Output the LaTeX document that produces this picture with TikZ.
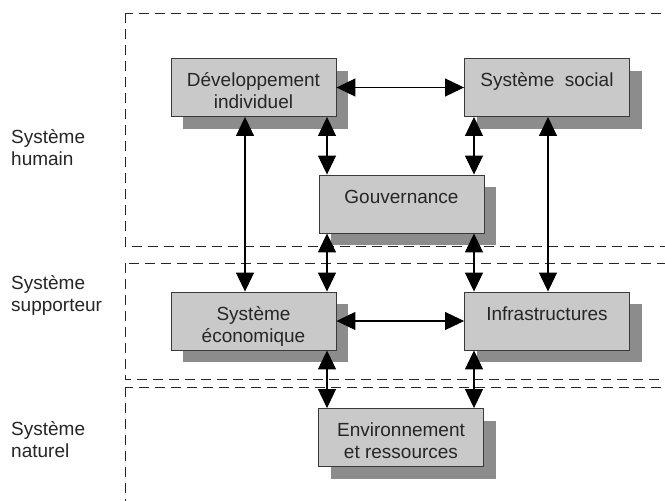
\documentclass[tikz,border=0pt]{standalone}
\usepackage{fontspec}
\setmainfont{Liberation Sans}
\usetikzlibrary{arrows.meta,shadows}
\definecolor{boxgrey}{HTML}{C9C9C9}
\definecolor{shgrey}{HTML}{8C8C8C}
\definecolor{txtgrey}{HTML}{262626}
\definecolor{linegrey}{HTML}{3A3A3A}
\newcommand{\btext}[1]{\raisebox{-6pt}[\height][\depth]{\begin{tabular}{@{}c@{}}#1\end{tabular}}}
\tikzset{
  sysbox/.style={draw=linegrey, line width=0.9pt, fill=boxgrey, minimum width=165pt, minimum height=58pt,
    inner sep=0pt, text=txtgrey, font=\fontsize{19}{22}\selectfont,
    general shadow={fill=shgrey, draw=none, shadow xshift=12pt, shadow yshift=-12pt}},
  region/.style={draw=black!85, line width=1pt, dash pattern=on 10pt off 6pt},
  sidelabel/.style={anchor=west, align=left, inner sep=0pt, text=txtgrey, font=\fontsize{19}{22}\selectfont},
  link/.style={draw=black, line width=1.1pt, {Triangle[length=19pt,width=18pt]}-{Triangle[length=19pt,width=18pt]}}
}
\begin{document}
\begin{tikzpicture}[x=1pt,y=-1pt]
\useasboundingbox (0,0) rectangle (665,501);
\clip (0,0) rectangle (665,501);
\fill[white] (0,0) rectangle (665,501);
% regions
\draw[region] (125,13) rectangle (720,246);
\draw[region] (125,263) rectangle (720,379);
\draw[region] (125,387) rectangle (720,540);
% side labels
\node[sidelabel] (lh) at (11,148) {Système\\humain};
\node[sidelabel] (ls) at (11,295) {Système\\supporteur};
\node[sidelabel] (ln) at (11,440) {Système\\naturel};
% boxes
\node[sysbox] (dev) at (253.5,87.5) {\btext{Développement\\individuel}};
\node[sysbox] (soc) at (547,87.5) {\btext{Système~~social\\~}};
\node[sysbox] (gov) at (401.5,204) {\btext{Gouvernance\\~}};
\node[sysbox] (eco) at (253.5,321) {\btext{Système\\économique}};
\node[sysbox] (inf) at (547,321) {\btext{Infrastructures\\~}};
\node[sysbox] (env) at (401,437.5) {\btext{Environnement\\et ressources}};
% column coordinates
\coordinate (xa) at (245,0);
\coordinate (xb) at (327,0);
\coordinate (xc) at (474,0);
\coordinate (xd) at (548,0);
% connectors
\draw[link] (dev.east) -- (soc.west);
\draw[link] (eco.east) -- (inf.west);
\draw[link] (dev.south -| xa) -- (eco.north -| xa);
\draw[link] (dev.south -| xb) -- (gov.north -| xb);
\draw[link] (soc.south -| xc) -- (gov.north -| xc);
\draw[link] (soc.south -| xd) -- (inf.north -| xd);
\draw[link] (gov.south -| xb) -- (eco.north -| xb);
\draw[link] (gov.south -| xc) -- (inf.north -| xc);
\draw[link] (eco.south -| xb) -- (env.north -| xb);
\draw[link] (inf.south -| xc) -- (env.north -| xc);
\end{tikzpicture}
\end{document}
